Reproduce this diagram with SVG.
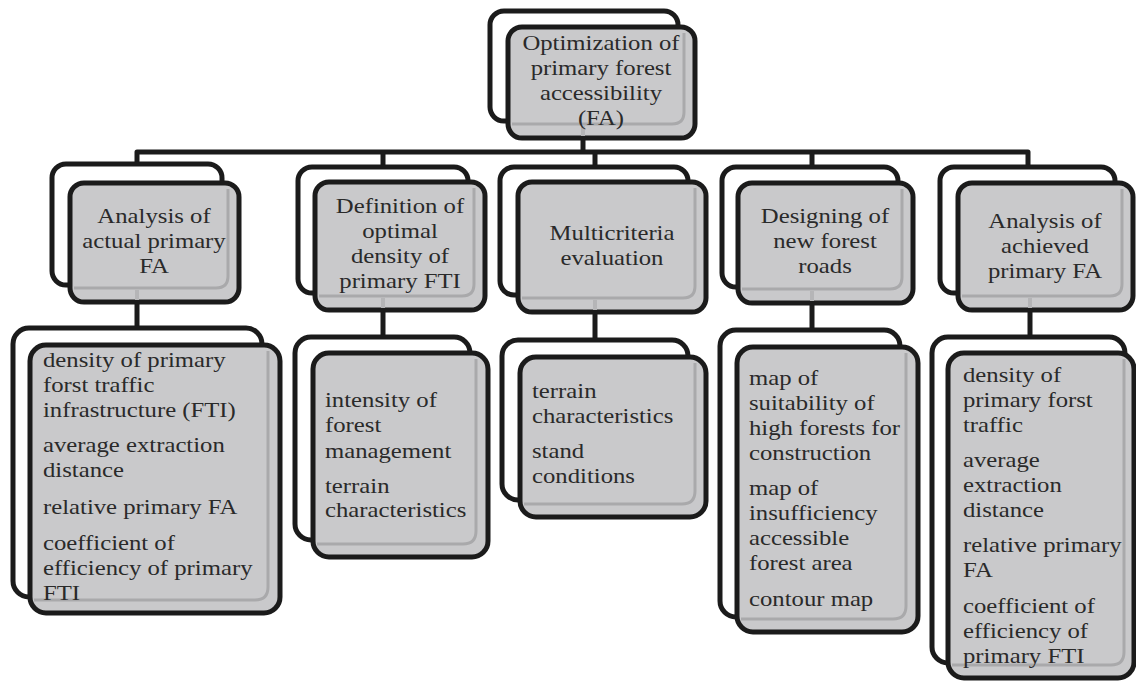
<svg xmlns="http://www.w3.org/2000/svg" width="1136" height="681" viewBox="0 0 1136 681">
<style>
.back{fill:#ffffff;stroke:#1b1b1b;stroke-width:5}
.front{fill:#c9c9cb;stroke:#1b1b1b;stroke-width:5}
.bevel{fill:none;stroke:#a9a9ab;stroke-width:3}
.ghost{stroke:#b5b5b7;stroke-width:4}
.conn{fill:none;stroke:#1b1b1b;stroke-width:5;stroke-linejoin:round}
text{font-family:"Liberation Serif","Times New Roman",serif;font-size:21.5px;fill:#2a2a2a}
.c{text-anchor:middle}
</style>
<rect width="1136" height="681" fill="#ffffff"/>
<g id="connectors">
<path class="conn" d="M583,138 V152"/>
<path class="conn" d="M137,165 V152 H1028 V167"/>
<path class="conn" d="M383,152 V167 M595,152 V167 M812,152 V167"/>
<path class="conn" d="M137,302 V328 M383,310 V337 M595,312 V340 M812,303 V330 M1030,310 V337"/>
</g>
<g id="top">
<rect class="back" x="490" y="11" width="188" height="110" rx="14"/>
<rect class="front" x="508" y="27" width="187" height="111" rx="14"/>
<path class="bevel" d="M684,33 V112 Q684,124 672,124 H512"/>
<line class="ghost" x1="583" y1="126" x2="583" y2="136"/>
<g transform="translate(601 0) scale(1.15 1)">
<text class="c" x="0" y="50">Optimization of</text>
<text class="c" x="0" y="75">primary forest</text>
<text class="c" x="0" y="100">accessibility</text>
<text class="c" x="0" y="125">(FA)</text>
</g>
</g>
<g id="n1">
<rect class="back" x="52" y="164" width="170" height="121" rx="14"/>
<rect class="front" x="70" y="183" width="169" height="119" rx="14"/>
<path class="bevel" d="M228,189 V276 Q228,288 216,288 H74"/>
<line class="ghost" x1="137" y1="290" x2="137" y2="300"/>
<g transform="translate(154 0) scale(1.15 1)">
<text class="c" x="0" y="223">Analysis of</text>
<text class="c" x="0" y="248">actual primary</text>
<text class="c" x="0" y="273">FA</text>
</g>
</g>
<g id="n2">
<rect class="back" x="298" y="167" width="170" height="126" rx="14"/>
<rect class="front" x="315" y="182" width="170" height="128" rx="14"/>
<path class="bevel" d="M474,188 V284 Q474,296 462,296 H319"/>
<line class="ghost" x1="383" y1="298" x2="383" y2="308"/>
<g transform="translate(400 0) scale(1.15 1)">
<text class="c" x="0" y="213">Definition of</text>
<text class="c" x="0" y="238">optimal</text>
<text class="c" x="0" y="263">density of</text>
<text class="c" x="0" y="288">primary FTI</text>
</g>
</g>
<g id="n3">
<rect class="back" x="500" y="167" width="188" height="128" rx="14"/>
<rect class="front" x="518" y="182" width="188" height="130" rx="14"/>
<path class="bevel" d="M695,188 V286 Q695,298 683,298 H522"/>
<line class="ghost" x1="595" y1="300" x2="595" y2="310"/>
<g transform="translate(612 0) scale(1.15 1)">
<text class="c" x="0" y="240">Multicriteria</text>
<text class="c" x="0" y="265">evaluation</text>
</g>
</g>
<g id="n4">
<rect class="back" x="722" y="167" width="176" height="120" rx="14"/>
<rect class="front" x="738" y="183" width="175" height="120" rx="14"/>
<path class="bevel" d="M902,189 V277 Q902,289 890,289 H742"/>
<line class="ghost" x1="812" y1="291" x2="812" y2="301"/>
<g transform="translate(825 0) scale(1.15 1)">
<text class="c" x="0" y="223">Designing  of</text>
<text class="c" x="0" y="248">new forest</text>
<text class="c" x="0" y="273">roads</text>
</g>
</g>
<g id="n5">
<rect class="back" x="940" y="167" width="175" height="126" rx="14"/>
<rect class="front" x="958" y="183" width="175" height="127" rx="14"/>
<path class="bevel" d="M1122,189 V284 Q1122,296 1110,296 H962"/>
<line class="ghost" x1="1030" y1="298" x2="1030" y2="308"/>
<g transform="translate(1045 0) scale(1.15 1)">
<text class="c" x="0" y="228">Analysis of</text>
<text class="c" x="0" y="253">achieved</text>
<text class="c" x="0" y="278">primary FA</text>
</g>
</g>
<g id="c1">
<rect class="back" x="13" y="328" width="249" height="269" rx="16"/>
<rect class="front" x="30" y="345" width="250" height="268" rx="16"/>
<path class="bevel" d="M268,351 V587 Q268,600 255,600 H34"/>
<g transform="translate(43 0) scale(1.15 1)">
<text x="0" y="367">density of primary</text>
<text x="0" y="392">forst traffic</text>
<text x="0" y="417">infrastructure (FTI)</text>
<text x="0" y="452">average  extraction</text>
<text x="0" y="477">distance</text>
<text x="0" y="514">relative primary FA</text>
<text x="0" y="550">coefficient  of</text>
<text x="0" y="575">efficiency  of primary</text>
<text x="0" y="600">FTI</text>
</g>
</g>
<g id="c2">
<rect class="back" x="295" y="337" width="175" height="203" rx="16"/>
<rect class="front" x="313" y="353" width="175" height="204" rx="16"/>
<path class="bevel" d="M476,359 V531 Q476,544 463,544 H317"/>
<g transform="translate(325 0) scale(1.15 1)">
<text x="0" y="407">intensity of</text>
<text x="0" y="432">forest</text>
<text x="0" y="458">management</text>
<text x="0" y="493">terrain</text>
<text x="0" y="517">characteristics</text>
</g>
</g>
<g id="c3">
<rect class="back" x="502" y="340" width="186" height="160" rx="16"/>
<rect class="front" x="520" y="357" width="186" height="160" rx="16"/>
<path class="bevel" d="M695,363 V491 Q695,504 682,504 H524"/>
<g transform="translate(532 0) scale(1.15 1)">
<text x="0" y="398">terrain</text>
<text x="0" y="423">characteristics</text>
<text x="0" y="458">stand</text>
<text x="0" y="483">conditions</text>
</g>
</g>
<g id="c4">
<rect class="back" x="720" y="330" width="180" height="287" rx="16"/>
<rect class="front" x="737" y="347" width="181" height="285" rx="16"/>
<path class="bevel" d="M906,353 V606 Q906,619 893,619 H741"/>
<g transform="translate(749 0) scale(1.15 1)">
<text x="0" y="385">map of</text>
<text x="0" y="410">suitability of</text>
<text x="0" y="435">high  forests for</text>
<text x="0" y="460">construction</text>
<text x="0" y="495">map of</text>
<text x="0" y="520">insufficiency</text>
<text x="0" y="545">accessible</text>
<text x="0" y="570">forest area</text>
<text x="0" y="606">contour map</text>
</g>
</g>
<g id="c5">
<rect class="back" x="932" y="337" width="193" height="326" rx="16"/>
<rect class="front" x="948" y="353" width="186" height="325" rx="16"/>
<path class="bevel" d="M1124,359 V652 Q1124,665 1111,665 H952"/>
<g transform="translate(963 0) scale(1.15 1)">
<text x="0" y="382">density of</text>
<text x="0" y="407">primary forst</text>
<text x="0" y="432">traffic</text>
<text x="0" y="467">average</text>
<text x="0" y="492">extraction</text>
<text x="0" y="517">distance</text>
<text x="0" y="552">relative  primary</text>
<text x="0" y="577">FA</text>
<text x="0" y="613">coefficient  of</text>
<text x="0" y="638">efficiency  of</text>
<text x="0" y="663">primary FTI</text>
</g>
</g>
</svg>
